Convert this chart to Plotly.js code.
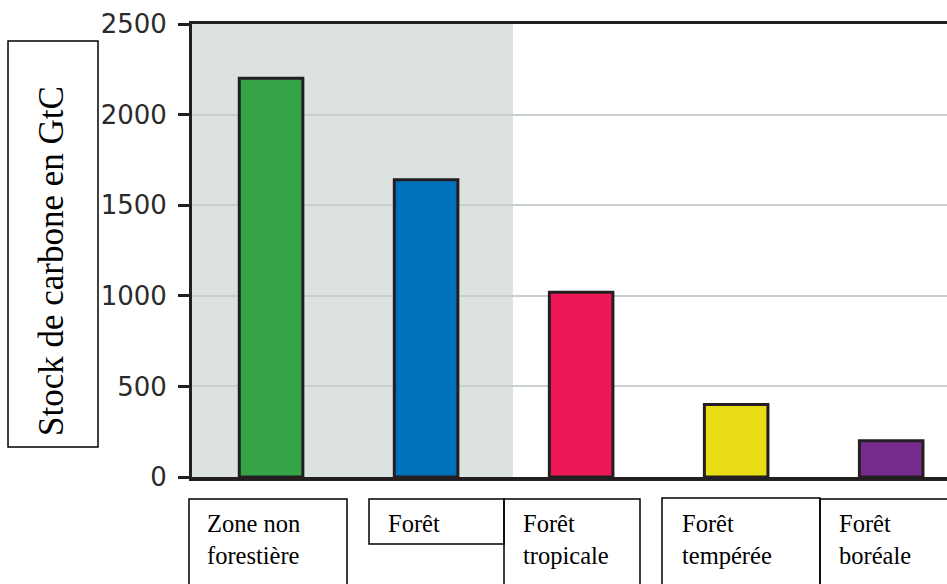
<!DOCTYPE html>
<html>
<head>
<meta charset="utf-8">
<script src="https://cdn.plot.ly/plotly-3.0.1.min.js"></script>
<style>html,body{margin:0;padding:0;background:#fff;}#chart{width:947px;height:584px;}</style>
</head>
<body>
<div id="chart"></div>
<script>
// Data
const categories = ["Zone non forestière", "Forêt", "Forêt tropicale", "Forêt tempérée", "Forêt boréale"];
const labelLines = [["Zone non", "forestière"], ["Forêt"], ["Forêt", "tropicale"], ["Forêt", "tempérée"], ["Forêt", "boréale"]];
const stockGtC = [2200, 1640, 1020, 400, 200];
const barColors = ["#34a446", "#0072bc", "#ee1857", "#e9dd16", "#762a8c"];
const yTickValues = [0, 500, 1000, 1500, 2000, 2500];
const yTitle = "Stock de carbone en GtC";

// Layout helpers (pixel -> paper)
const W = 947, H = 584, L = 192, R = 0, T = 24, B = 107;
const pw = W - L - R, ph = H - T - B;
const px = v => (v - L) / pw;
const py = v => (H - B - v) / ph;

const boxes = [
  {x0: 189, x1: 347, y0: 499, y1: 620, tx: 205},
  {x0: 369, x1: 504, y0: 499, y1: 544, tx: 386},
  {x0: 504, x1: 640, y0: 499, y1: 620, tx: 521},
  {x0: 662, x1: 820, y0: 498, y1: 620, tx: 680},
  {x0: 820, x1: 990, y0: 499, y1: 620, tx: 837}
];

const shapes = [
  {type: "rect", xref: "x", yref: "paper", x0: -0.52, x1: 1.56, y0: 0, y1: 1,
   fillcolor: "#dbe2e0", line: {width: 0}, layer: "below"}
];
const annotations = [];
boxes.forEach((b, i) => {
  shapes.push({type: "rect", xref: "paper", yref: "paper", x0: px(b.x0), x1: px(b.x1), y0: py(b.y0), y1: py(b.y1),
    line: {color: "#000", width: 1.5}, fillcolor: "rgba(0,0,0,0)", layer: "above"});
  annotations.push({xref: "paper", yref: "paper", x: px(b.tx), y: py(508), xanchor: "left", yanchor: "top",
    text: labelLines[i].join("<br>"), showarrow: false, align: "left",
    font: {family: "Liberation Serif, Times New Roman, serif", size: 24.5, color: "#000"}});
});
// y-axis title box
shapes.push({type: "rect", xref: "paper", yref: "paper", x0: px(8), x1: px(98), y0: py(41), y1: py(447),
  line: {color: "#000", width: 1.5}, fillcolor: "rgba(0,0,0,0)"});
annotations.push({xref: "paper", yref: "paper", x: px(51), y: py(261), xanchor: "center", yanchor: "middle",
  text: yTitle, textangle: -90, showarrow: false,
  font: {family: "Liberation Serif, Times New Roman, serif", size: 35, color: "#000"}});

const trace = {
  type: "bar", x: categories, y: stockGtC, width: 0.41,
  marker: {color: barColors, line: {color: "#231f20", width: 3}},
  hoverinfo: "skip"
};

const layout = {
  width: W, height: H,
  margin: {l: L, r: R, t: T, b: B, pad: 0},
  paper_bgcolor: "#fff", plot_bgcolor: "#fff",
  showlegend: false,
  xaxis: {type: "category", range: [-0.51, 4.36], showticklabels: false, ticks: "",
    showline: true, mirror: true, linecolor: "#231f20", linewidth: 3.5, showgrid: false, zeroline: false, fixedrange: true},
  yaxis: {range: [0, 2500], tickvals: yTickValues, ticks: "outside", ticklen: 11, tickwidth: 3, tickcolor: "#231f20",
    showline: true, linecolor: "#231f20", linewidth: 3, showgrid: true, gridcolor: "#c8d0d0", gridwidth: 2,
    zeroline: false, ticklabelstandoff: 6,
    tickfont: {family: "DejaVu Sans, sans-serif", size: 26, color: "#2b2b2b"}},
  shapes: shapes,
  annotations: annotations
};

Plotly.newPlot("chart", [trace], layout, {displayModeBar: false, staticPlot: true});
</script>
</body>
</html>
